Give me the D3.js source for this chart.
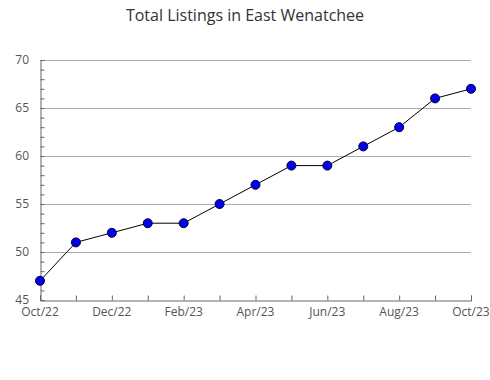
<!DOCTYPE html>
<html>
<head>
<meta charset="utf-8">
<script src="https://cdnjs.cloudflare.com/ajax/libs/d3/7.8.5/d3.min.js"></script>
<style>
  body { margin: 0; background: #fff; }
  text { font-family: "Open Sans", sans-serif; }
</style>
</head>
<body>
<div id="chart"></div>
<script>
// data
var months = ["Oct/22","Nov/22","Dec/22","Jan/23","Feb/23","Mar/23","Apr/23",
              "May/23","Jun/23","Jul/23","Aug/23","Sep/23","Oct/23"];
var listings = [47, 51, 52, 53, 53, 55, 57, 59, 59, 61, 63, 66, 67];
var yTicks = [45, 50, 55, 60, 65, 70];

var margin = {top: 60, right: 19, bottom: 80, left: 40},
    width = 490 - margin.left - margin.right,
    height = 380 - margin.top - margin.bottom;

var svg = d3.select("#chart")
  .append("svg")
    .attr("width", 490)
    .attr("height", 380);

svg.append("text")
  .attr("x", 245)
  .attr("y", 21)
  .attr("text-anchor", "middle")
  .style("font-size", "16px")
  .style("fill", "#333")
  .text("Total Listings in East Wenatchee");

var g = svg.append("g")
  .attr("transform", "translate(" + margin.left + "," + margin.top + ")");

var x = d3.scalePoint()
  .domain(months)
  .range([0, width]);

var y = d3.scaleLinear()
  .domain([45, 70])
  .range([height, 0]);

// horizontal grid lines
g.selectAll(".grid")
  .data(yTicks.slice(1))
  .enter()
  .append("line")
    .attr("x1", 0)
    .attr("x2", width)
    .attr("y1", d => y(d) + 0.5)
    .attr("y2", d => y(d) + 0.5)
    .attr("stroke", "#aaa")
    .attr("stroke-width", 1);

// y axis with minor ticks inward
var yAxis = g.append("g")
  .attr("transform", "translate(0.5,0)")
  .call(d3.axisRight(y).tickValues(d3.range(45, 71)).tickSize(4).tickFormat(""));
yAxis.select(".domain").attr("stroke", "#666");
yAxis.selectAll(".tick line").attr("stroke", "#666");

g.selectAll(".ylab")
  .data(yTicks)
  .enter()
  .append("text")
    .attr("x", -11)
    .attr("y", d => y(d))
    .attr("dy", "0.35em")
    .attr("text-anchor", "end")
    .style("font-size", "12px")
    .style("fill", "#555")
    .text(d => d);

// x axis, ticks pointing up
var xAxis = g.append("g")
  .attr("transform", "translate(0," + (height + 0.5) + ")")
  .call(d3.axisTop(x).tickSize(5).tickFormat(""));
xAxis.select(".domain").attr("stroke", "#666");
xAxis.selectAll(".tick line").attr("stroke", "#666");

g.selectAll(".xlab")
  .data(months.filter((m, i) => i % 2 === 0))
  .enter()
  .append("text")
    .attr("x", d => x(d))
    .attr("y", height + 16)
    .attr("text-anchor", "middle")
    .style("font-size", "12px")
    .style("fill", "#555")
    .text(d => d);

// line
var line = d3.line()
  .x((d, i) => x(months[i]))
  .y(d => y(d));

g.append("path")
  .datum(listings)
  .attr("d", line)
  .attr("fill", "none")
  .attr("stroke", "#000")
  .attr("stroke-width", 1);

// dots
g.selectAll("circle")
  .data(listings)
  .enter()
  .append("circle")
    .attr("cx", (d, i) => x(months[i]))
    .attr("cy", d => y(d))
    .attr("r", 4.5)
    .attr("fill", "#0000ee")
    .attr("stroke", "#000033")
    .attr("stroke-width", 1);
</script>
</body>
</html>
